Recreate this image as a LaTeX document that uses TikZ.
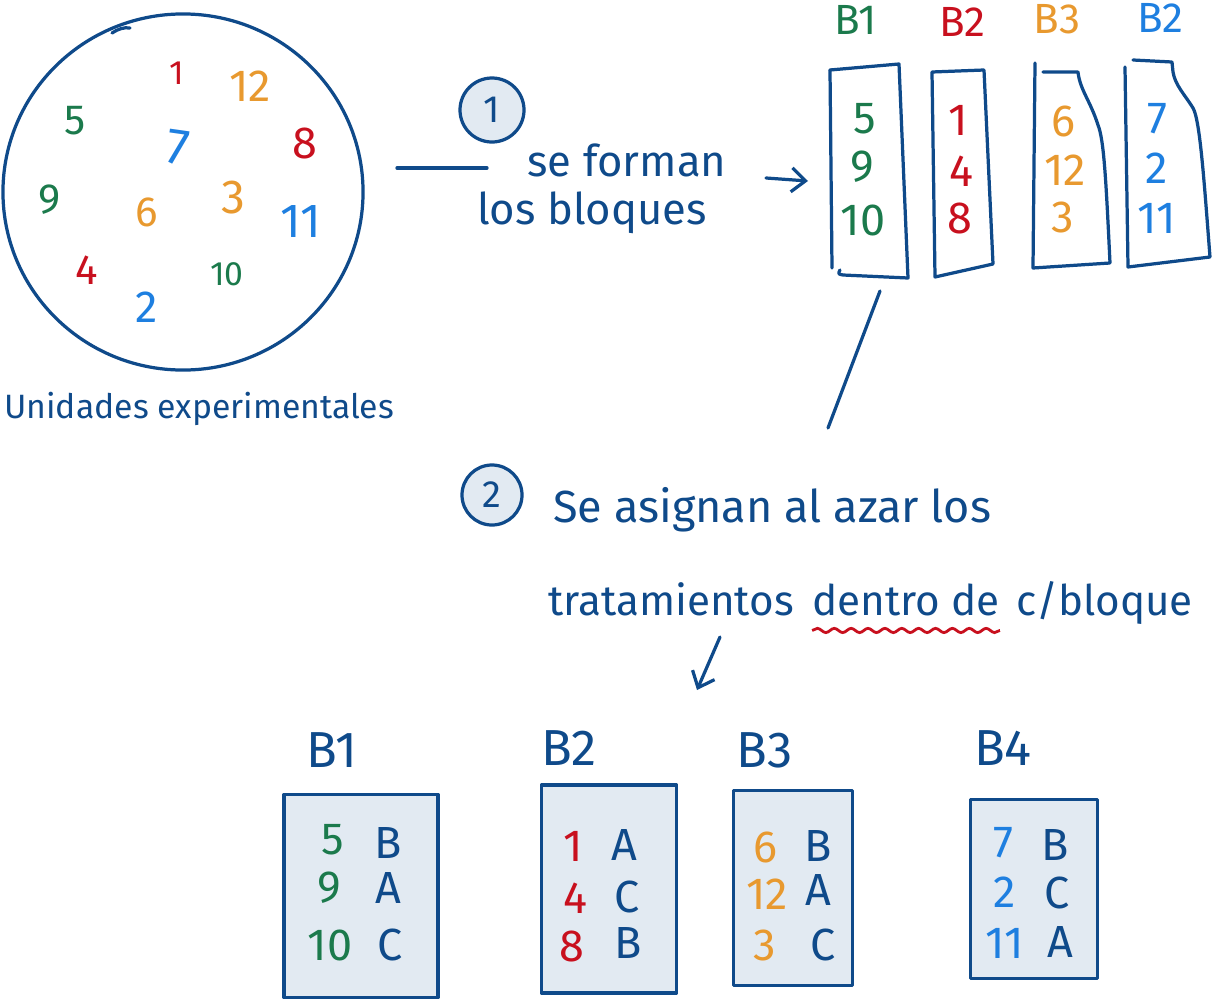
\documentclass[tikz,border=0pt]{standalone}
\usepackage{fontspec}
\setmainfont{Fira Sans}
\usetikzlibrary{decorations.pathmorphing,arrows.meta,shapes.geometric}
\definecolor{pen}{HTML}{0F4A8A}
\definecolor{cgreen}{HTML}{1B7A4C}
\definecolor{cred}{HTML}{C8101E}
\definecolor{corange}{HTML}{E8992F}
\definecolor{cblue}{HTML}{1E7FE0}
\definecolor{boxfill}{HTML}{E2EAF2}
\tikzset{
  stroke/.style={draw=pen, line width=2.3pt, line cap=round, line join=round},
  hw/.style={text=pen, inner sep=0pt, font=\fontsize{#1}{#1}\selectfont},
  hw/.default=30,
  num/.style={inner sep=0pt, font=\fontsize{#1}{#1}\selectfont},
  num/.default=28,
  stepcircle/.style={circle, stroke, fill=boxfill, text=pen, inner sep=0pt, font=\fontsize{27}{27}\selectfont},
  tbox/.style={rectangle, stroke, fill=boxfill},
  barb/.style={-{Straight Barb[length=0.35cm,width=0.6cm,line width=2.3pt]}}
}
\begin{document}
\begin{tikzpicture}[x=0.025cm,y=-0.025cm]
\useasboundingbox (0,0) rectangle (1212,1000);

% pool of experimental units
\node (pool) [ellipse, stroke, minimum width=9cm, minimum height=8.9cm, inner sep=0pt] at (183,192) {};
\draw[stroke] (112,33) .. controls (118,29) and (124,27) .. (130,28);
\node[num=24, text=cred] (u1) at (177,73) {1};
\node[num=32, text=corange] (u12) at (250,86) {12};
\node[num=30, text=cgreen] (u5) at (75,121) {5};
\node[num=36, text=cblue, rotate=-8] (u7) at (178,148) {7};
\node[num=32, text=cred] (u8) at (305,143) {8};
\node[num=30, text=cgreen] (u9) at (50,200) {9};
\node[num=30, text=corange] (u6) at (147,212) {6};
\node[num=34, text=corange] (u3) at (233,198) {3};
\node[num=34, text=cblue] (u11) at (301,222) {11};
\node[num=30, text=cred] (u4) at (87,270) {4};
\node[num=24, text=cgreen] (u10) at (227,274) {10};
\node[num=32, text=cblue] (u2) at (147,307) {2};
\node[hw=24, anchor=west] (lbl) at (4,409) {Unidades experimentales};

% step 1
\coordinate (l1a) at (397,168);
\coordinate (l1b) at (487,168);
\draw[stroke] (l1a) -- (l1b);
\node[stepcircle, minimum size=1.6cm] (s1) at (492,110) {1};
\node[hw=31] (t1a) at (627,160) {se forman};
\node[hw=31] (t1b) at (592,213) {los bloques};
\coordinate (a1a) at (766,178);
\coordinate (a1b) at (808,181);
\draw[stroke, barb] (a1a) -- (a1b);

% formed blocks (sketched)
\node[num=30, text=cgreen] (hB1) at (856,20) {B1};
\node[num=30, text=cred] (hB2) at (962,22) {B2};
\node[num=30, text=corange] (hB3) at (1057,19) {B3};
\node[num=30, text=cblue] (hB4) at (1160,18) {B2};

\coordinate (b1tl) at (830,70); \coordinate (b1tr) at (899,64);
\coordinate (b1br) at (908,278); \coordinate (b1bl) at (843,275);
\draw[stroke] (b1tl) -- (b1tr) -- (b1br) -- (b1bl) .. controls (838,274) .. (840,270);
\draw[stroke] (b1tl) -- (832,268);

\draw[stroke] (932,72) -- (984,70) -- (993,264) -- (935,277) -- cycle;

\draw[stroke] (1035,63) -- (1033,268) -- (1110,263) .. controls (1106,180) and (1104,140) .. (1098,125) .. controls (1090,100) and (1080,90) .. (1078,72) -- (1043,72);

\draw[stroke] (1125,67) -- (1128,267) -- (1210,257) .. controls (1204,180) and (1200,120) .. (1193,108) .. controls (1185,95) and (1175,85) .. (1173,72) -- (1172,62) -- (1133,60);

\node[num=32, text=cgreen] (n5) at (865,119) {5};
\node[num=32, text=cgreen] (n9) at (862,167) {9};
\node[num=32, text=cgreen] (n10) at (863,220) {10};
\node[num=32, text=cred] (n1) at (958,120) {1};
\node[num=32, text=cred] (n4) at (961,171) {4};
\node[num=32, text=cred] (n8) at (960,218) {8};
\node[num=32, text=corange] (n6) at (1063,121) {6};
\node[num=32, text=corange] (n12) at (1065,170) {12};
\node[num=32, text=corange] (n3) at (1063,217) {3};
\node[num=32, text=cblue] (n7) at (1157,119) {7};
\node[num=32, text=cblue] (n2) at (1157,168) {2};
\node[num=32, text=cblue] (n11) at (1157,218) {11};

\coordinate (l2a) at (880,291);
\coordinate (l2b) at (828,428);
\draw[stroke] (l2a) -- (l2b);

% step 2
\node[stepcircle, minimum size=1.5cm] (s2) at (492,495) {2};
\node[hw=32, anchor=base west] (t2a) at (553,522) {Se asignan al azar los};
\node[hw=30, anchor=base west] (t2b) at (548,615) {tratamientos};
\node[hw=30, anchor=base west] (t2c) at ([xshift=0.45cm]t2b.base east) {dentro de};
\node[hw=30, anchor=base west] (t2d) at ([xshift=0.4cm]t2c.base east) {c/bloque};
\draw[draw=cred, line width=2pt, decorate, decoration={snake, amplitude=1.5pt, segment length=12pt}]
  ([yshift=-11pt]t2c.base west) -- ([yshift=-11pt]t2c.base east);
\coordinate (a2a) at (720,637);
\coordinate (a2b) at (697,690);
\draw[stroke, barb] (a2a) -- (a2b);

% assigned blocks
\node[hw=36] (gB1) at (332,750) {B1};
\node[hw=36] (gB2) at (569,748) {B2};
\node[hw=36] (gB3) at (765,750) {B3};
\node[hw=36] (gB4) at (1003,748) {B4};

\node[tbox, minimum width=3.85cm, minimum height=5.075cm] (bx1) at (361,896) {};
\node[tbox, minimum width=3.375cm, minimum height=5.2cm] (bx2) at (609,889) {};
\node[tbox, minimum width=2.975cm, minimum height=4.875cm] (bx3) at (793,888) {};
\node[tbox, minimum width=3.175cm, minimum height=4.475cm] (bx4) at (1034,889) {};

\node[num=32, text=cgreen] (r15) at (333,840) {5};
\node[num=32, text=cgreen] (r19) at (329,888) {9};
\node[num=32, text=cgreen] (r110) at (330,945) {10};
\node[hw=32] (r1B) at (388,843) {B};
\node[hw=32] (r1A) at (388,888) {A};
\node[hw=32] (r1C) at (390,945) {C};

\node[num=32, text=cred] (r21) at (573,846) {1};
\node[num=32, text=cred] (r24) at (575,898) {4};
\node[num=32, text=cred] (r28) at (572,946) {8};
\node[hw=32] (r2A) at (624,845) {A};
\node[hw=32] (r2C) at (627,897) {C};
\node[hw=32] (r2B) at (628,943) {B};

\node[num=32, text=corange] (r36) at (765,847) {6};
\node[num=32, text=corange] (r312) at (767,894) {12};
\node[num=32, text=corange] (r33) at (765,945) {3};
\node[hw=32] (r3B) at (818,846) {B};
\node[hw=32] (r3A) at (818,890) {A};
\node[hw=32] (r3C) at (823,945) {C};

\node[num=32, text=cblue] (r47) at (1003,843) {7};
\node[num=32, text=cblue] (r42) at (1005,892) {2};
\node[num=32, text=cblue] (r411) at (1005,943) {11};
\node[hw=32] (r4B) at (1055,845) {B};
\node[hw=32] (r4C) at (1057,893) {C};
\node[hw=32] (r4A) at (1060,942) {A};
\end{tikzpicture}
\end{document}
